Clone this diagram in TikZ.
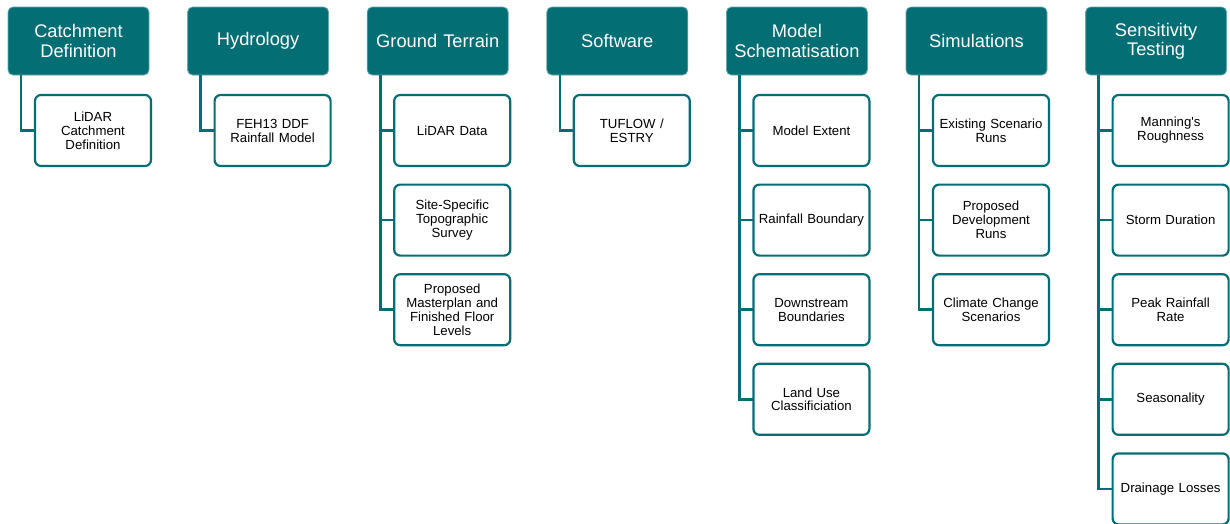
\documentclass[tikz,border=0pt]{standalone}
\usepackage{fontspec}
\setmainfont{Liberation Sans}
\usepackage{tikz}
\usetikzlibrary{positioning, calc}
\definecolor{teal}{RGB}{3,110,116}
\tikzstyle{headbox}=[rectangle,rounded corners=5pt,fill=teal,draw=teal!60!white,line width=0.8pt,
text=white,minimum width=141pt,minimum height=68pt,text width=137pt,align=center,inner sep=0pt,outer sep=0pt,
font=\fontsize{18.3}{19.3}\selectfont]
\tikzstyle{leafbox}=[rectangle,rounded corners=6pt,fill=white,draw=teal,line width=2.2pt,
minimum width=116pt,minimum height=71pt,text width=112pt,align=center,inner sep=0pt,outer sep=0pt,
font=\fontsize{13.2}{13.9}\selectfont]
\tikzstyle{linkpath}=[draw=teal,line width=2.6pt,to path={|- (\tikztotarget)}]

\begin{document}
\begin{tikzpicture}[node distance = 18.6pt and 38.6pt]
    \useasboundingbox (0,0) rectangle (1230pt,-523pt);
    \node[headbox, anchor=north west] (catch) at (8pt,-7pt) {Catchment\\Definition};
    \node[headbox, right=of catch] (hydro) {Hydrology};
    \node[headbox, right=of hydro] (terrain) {Ground Terrain};
    \node[headbox, right=of terrain] (soft) {Software};
    \node[headbox, right=of soft] (schem) {Model\\Schematisation};
    \node[headbox, right=of schem] (sims) {Simulations};
    \node[headbox, right=of sims] (sens) {Sensitivity\\Testing};
    
    \node[leafbox, below right=20pt and 27pt of catch.south west] (catch1) {LiDAR\\Catchment\\Definition};
    
    \node[leafbox, below right=20pt and 27pt of hydro.south west] (hydro1) {FEH13 DDF\\Rainfall Model};
    
    \node[leafbox, below right=20pt and 27pt of terrain.south west] (terrain1) {LiDAR Data};
    \node[leafbox, below=of terrain1] (terrain2) {Site-Specific\\Topographic\\Survey};
    \node[leafbox, below=of terrain2] (terrain3) {Proposed\\Masterplan and\\Finished Floor\\Levels};
    
    \node[leafbox, below right=20pt and 27pt of soft.south west] (soft1) {TUFLOW /\\ESTRY};
    
    \node[leafbox, below right=20pt and 27pt of schem.south west] (schem1) {Model Extent};
    \node[leafbox, below=of schem1] (schem2) {Rainfall Boundary};
    \node[leafbox, below=of schem2] (schem3) {Downstream\\Boundaries};
    \node[leafbox, below=of schem3] (schem4) {Land Use\\Classificiation};
    
    \node[leafbox, below right=20pt and 27pt of sims.south west] (sims1) {Existing Scenario\\Runs};
    \node[leafbox, below=of sims1] (sims2) {Proposed\\Development\\Runs};
    \node[leafbox, below=of sims2] (sims3) {Climate Change\\Scenarios};
    
    \node[leafbox, below right=20pt and 27pt of sens.south west] (sens1) {Manning\textquotesingle s\\Roughness};
    \node[leafbox, below=of sens1] (sens2) {Storm Duration};
    \node[leafbox, below=of sens2] (sens3) {Peak Rainfall\\Rate};
    \node[leafbox, below=of sens3] (sens4) {Seasonality};
    \node[leafbox, below=of sens4] (sens5) {Drainage Losses};
    
    \coordinate (catch0) at ($(catch.south west)+(13pt,0)$);
    \coordinate (hydro0) at ($(hydro.south west)+(13pt,0)$);
    \coordinate (terrain0) at ($(terrain.south west)+(13pt,0)$);
    \coordinate (soft0) at ($(soft.south west)+(13pt,0)$);
    \coordinate (schem0) at ($(schem.south west)+(13pt,0)$);
    \coordinate (sims0) at ($(sims.south west)+(13pt,0)$);
    \coordinate (sens0) at ($(sens.south west)+(13pt,0)$);
    
    \path[linkpath]
    (catch0) edge (catch1.west)
    (hydro0) edge (hydro1.west)
    (terrain0) edge (terrain1.west)
    (terrain0) edge (terrain2.west)
    (terrain0) edge (terrain3.west)
    (soft0) edge (soft1.west)
    (schem0) edge (schem1.west)
    (schem0) edge (schem2.west)
    (schem0) edge (schem3.west)
    (schem0) edge (schem4.west)
    (sims0) edge (sims1.west)
    (sims0) edge (sims2.west)
    (sims0) edge (sims3.west)
    (sens0) edge (sens1.west)
    (sens0) edge (sens2.west)
    (sens0) edge (sens3.west)
    (sens0) edge (sens4.west)
    (sens0) edge (sens5.west);
\end{tikzpicture}
\end{document}
